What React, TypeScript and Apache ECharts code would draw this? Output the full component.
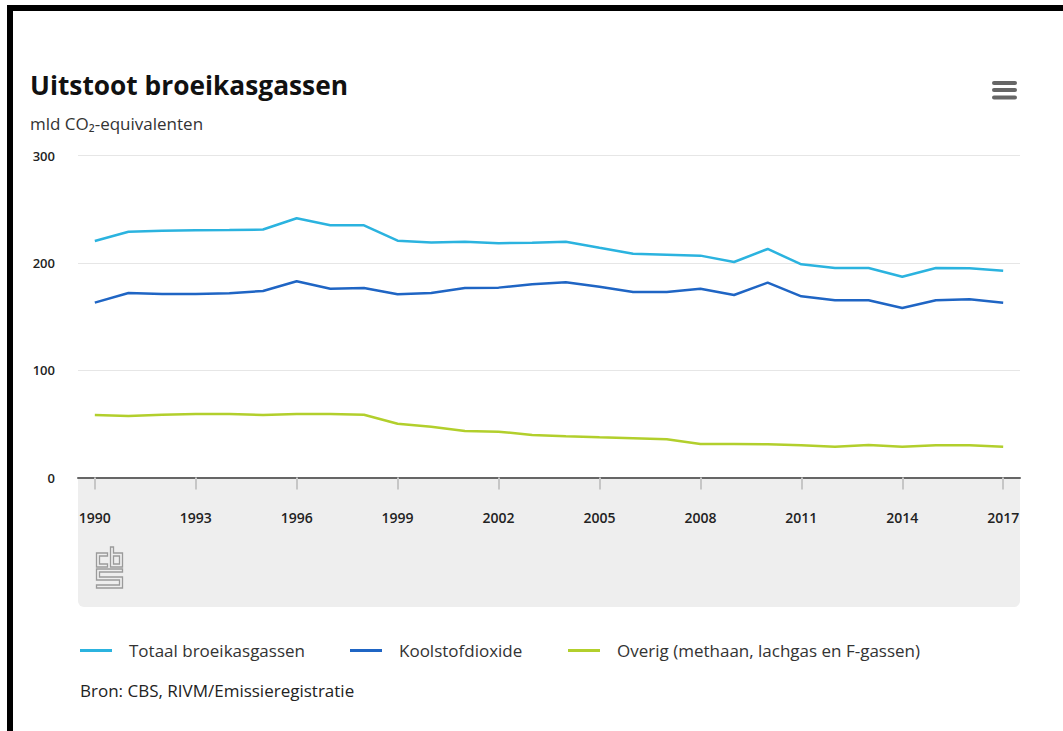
import React, { useEffect, useRef } from "react";
import * as echarts from "echarts";

const years = [
  "1990", "1991", "1992", "1993", "1994", "1995", "1996", "1997", "1998", "1999",
  "2000", "2001", "2002", "2003", "2004", "2005", "2006", "2007", "2008", "2009",
  "2010", "2011", "2012", "2013", "2014", "2015", "2016", "2017",
];

const totaal = [
  220.3, 229, 230, 230.3, 230.6, 231, 241.5, 235, 235, 220.6,
  219, 219.7, 218.2, 218.8, 219.7, 214, 208.5, 207.6, 206.7, 200.8,
  212.9, 198.6, 195.2, 195.2, 187.1, 195.2, 194.9, 192.7,
];

const koolstofdioxide = [
  162.9, 171.9, 171, 171, 171.6, 173.8, 182.8, 175.9, 176.6, 170.7,
  171.9, 176.6, 176.9, 180, 181.9, 177.8, 172.8, 172.8, 175.9, 170,
  181.5, 168.8, 165.1, 165.1, 157.9, 165.1, 166, 162.9,
];

const overig = [
  58.2, 57.3, 58.5, 59.2, 59.2, 58.2, 59.2, 59.2, 58.5, 50.1,
  47.3, 43.3, 42.7, 39.6, 38.4, 37.4, 36.5, 35.6, 31.2, 31.2,
  30.9, 30, 28.7, 30.3, 28.7, 30, 30, 28.7,
];

const seriesNames = [
  "Totaal broeikasgassen",
  "Koolstofdioxide",
  "Overig (methaan, lachgas en F-gassen)",
];
const seriesColors = ["#2bb3df", "#1f65c4", "#b2cf2c"];

const title = "Uitstoot broeikasgassen";
const subtitle = "mld CO₂-equivalenten";
const source = "Bron: CBS, RIVM/Emissieregistratie";

const FONT = "'Open Sans', Lato, sans-serif";

const logoPath =
  "M1,6 H12 V9 H4 V17 H12 V20 H1 Z " +
  "M15,0 H18 V6 H27 V20 H15 Z M18,9 H24 V17 H18 Z " +
  "M1,22 H27 V25 H4 V30 H27 V41 H1 V38 H24 V33 H1 Z";

let registered = false;

export default function App() {
  const ref = useRef<HTMLDivElement>(null);

  useEffect(() => {
    if (!ref.current) return;
    if (!registered) {
      echarts.graphic.registerShape("cbslogo", echarts.graphic.extendPath(logoPath, {}));
      registered = true;
    }
    const chart = echarts.init(ref.current, undefined, { renderer: "svg" });
    const dataSets = [totaal, koolstofdioxide, overig];
    const legendLefts = [80, 350, 568];

    chart.setOption({
      animation: false,
      backgroundColor: "#ffffff",
      grid: { left: 78, right: 43, top: 155.5, bottom: 253.5, containLabel: false },
      legend: seriesNames.map((n, i) => ({
        data: [n],
        left: legendLefts[i],
        top: 642,
        padding: 0,
        icon: "rect",
        itemWidth: 32,
        itemHeight: 3,
        selectedMode: false,
        textStyle: {
          fontFamily: FONT,
          fontSize: 17,
          color: "#333",
          padding: [0, 0, 0, 12],
        },
      })),
      xAxis: {
        type: "category",
        data: years,
        boundaryGap: true,
        z: 5,
        axisLine: { lineStyle: { color: "#666", width: 2 } },
        axisTick: {
          show: true,
          alignWithLabel: true,
          interval: 2,
          length: 12,
          lineStyle: { color: "#c6c6c6", width: 2 },
        },
        axisLabel: {
          interval: 2,
          margin: 33,
          fontFamily: FONT,
          fontSize: 14,
          fontWeight: 600,
          color: "#222",
        },
      },
      yAxis: {
        type: "value",
        min: 0,
        max: 300,
        interval: 100,
        axisLine: { show: false },
        axisTick: { show: false },
        splitLine: { lineStyle: { color: "#e6e6e6", width: 1 } },
        axisLabel: {
          margin: 23,
          fontFamily: FONT,
          fontSize: 13,
          fontWeight: 600,
          color: "#222",
        },
      },
      series: seriesNames.map((n, i) => ({
        name: n,
        type: "line",
        data: dataSets[i],
        showSymbol: false,
        symbol: "none",
        color: seriesColors[i],
        lineStyle: { width: 2.5, color: seriesColors[i] },
        z: 3,
      })),
      graphic: [
        {
          type: "rect",
          z: -10,
          silent: true,
          shape: { x: 78, y: 478, width: 942, height: 129, r: [0, 0, 6, 6] },
          style: { fill: "#eeeeee" },
        },
        {
          type: "rect",
          z: 10,
          shape: { x: 10, y: 8, width: 1200, height: 900 },
          style: { fill: "none", stroke: "#000", lineWidth: 6 },
        },
        {
          type: "text",
          x: 30,
          y: 85,
          style: {
            text: title,
            fontFamily: FONT,
            fontSize: 26.3,
            fontWeight: "bold",
            fill: "#111",
            verticalAlign: "middle",
          },
        },
        {
          type: "text",
          x: 30,
          y: 123,
          style: {
            text: subtitle,
            fontFamily: FONT,
            fontSize: 17,
            fill: "#333",
            verticalAlign: "middle",
          },
        },
        {
          type: "text",
          x: 80,
          y: 690,
          style: {
            text: source,
            fontFamily: FONT,
            fontSize: 17,
            fill: "#222",
            verticalAlign: "middle",
          },
        },
        { type: "rect", shape: { x: 992, y: 81, width: 25, height: 4, r: 2 }, style: { fill: "#666" } },
        { type: "rect", shape: { x: 992, y: 88, width: 25, height: 4, r: 2 }, style: { fill: "#666" } },
        { type: "rect", shape: { x: 992, y: 95.5, width: 25, height: 4, r: 2 }, style: { fill: "#666" } },
        {
          type: "cbslogo",
          x: 95.5,
          y: 547,
          style: { fill: "none", stroke: "#9a9a9a", lineWidth: 1.3 },
        },
      ],
    });
    return () => chart.dispose();
  }, []);

  return (
    <div
      ref={ref}
      style={{ position: "fixed", left: 0, top: 0, width: 1063, height: 731, background: "#fff" }}
    />
  );
}
